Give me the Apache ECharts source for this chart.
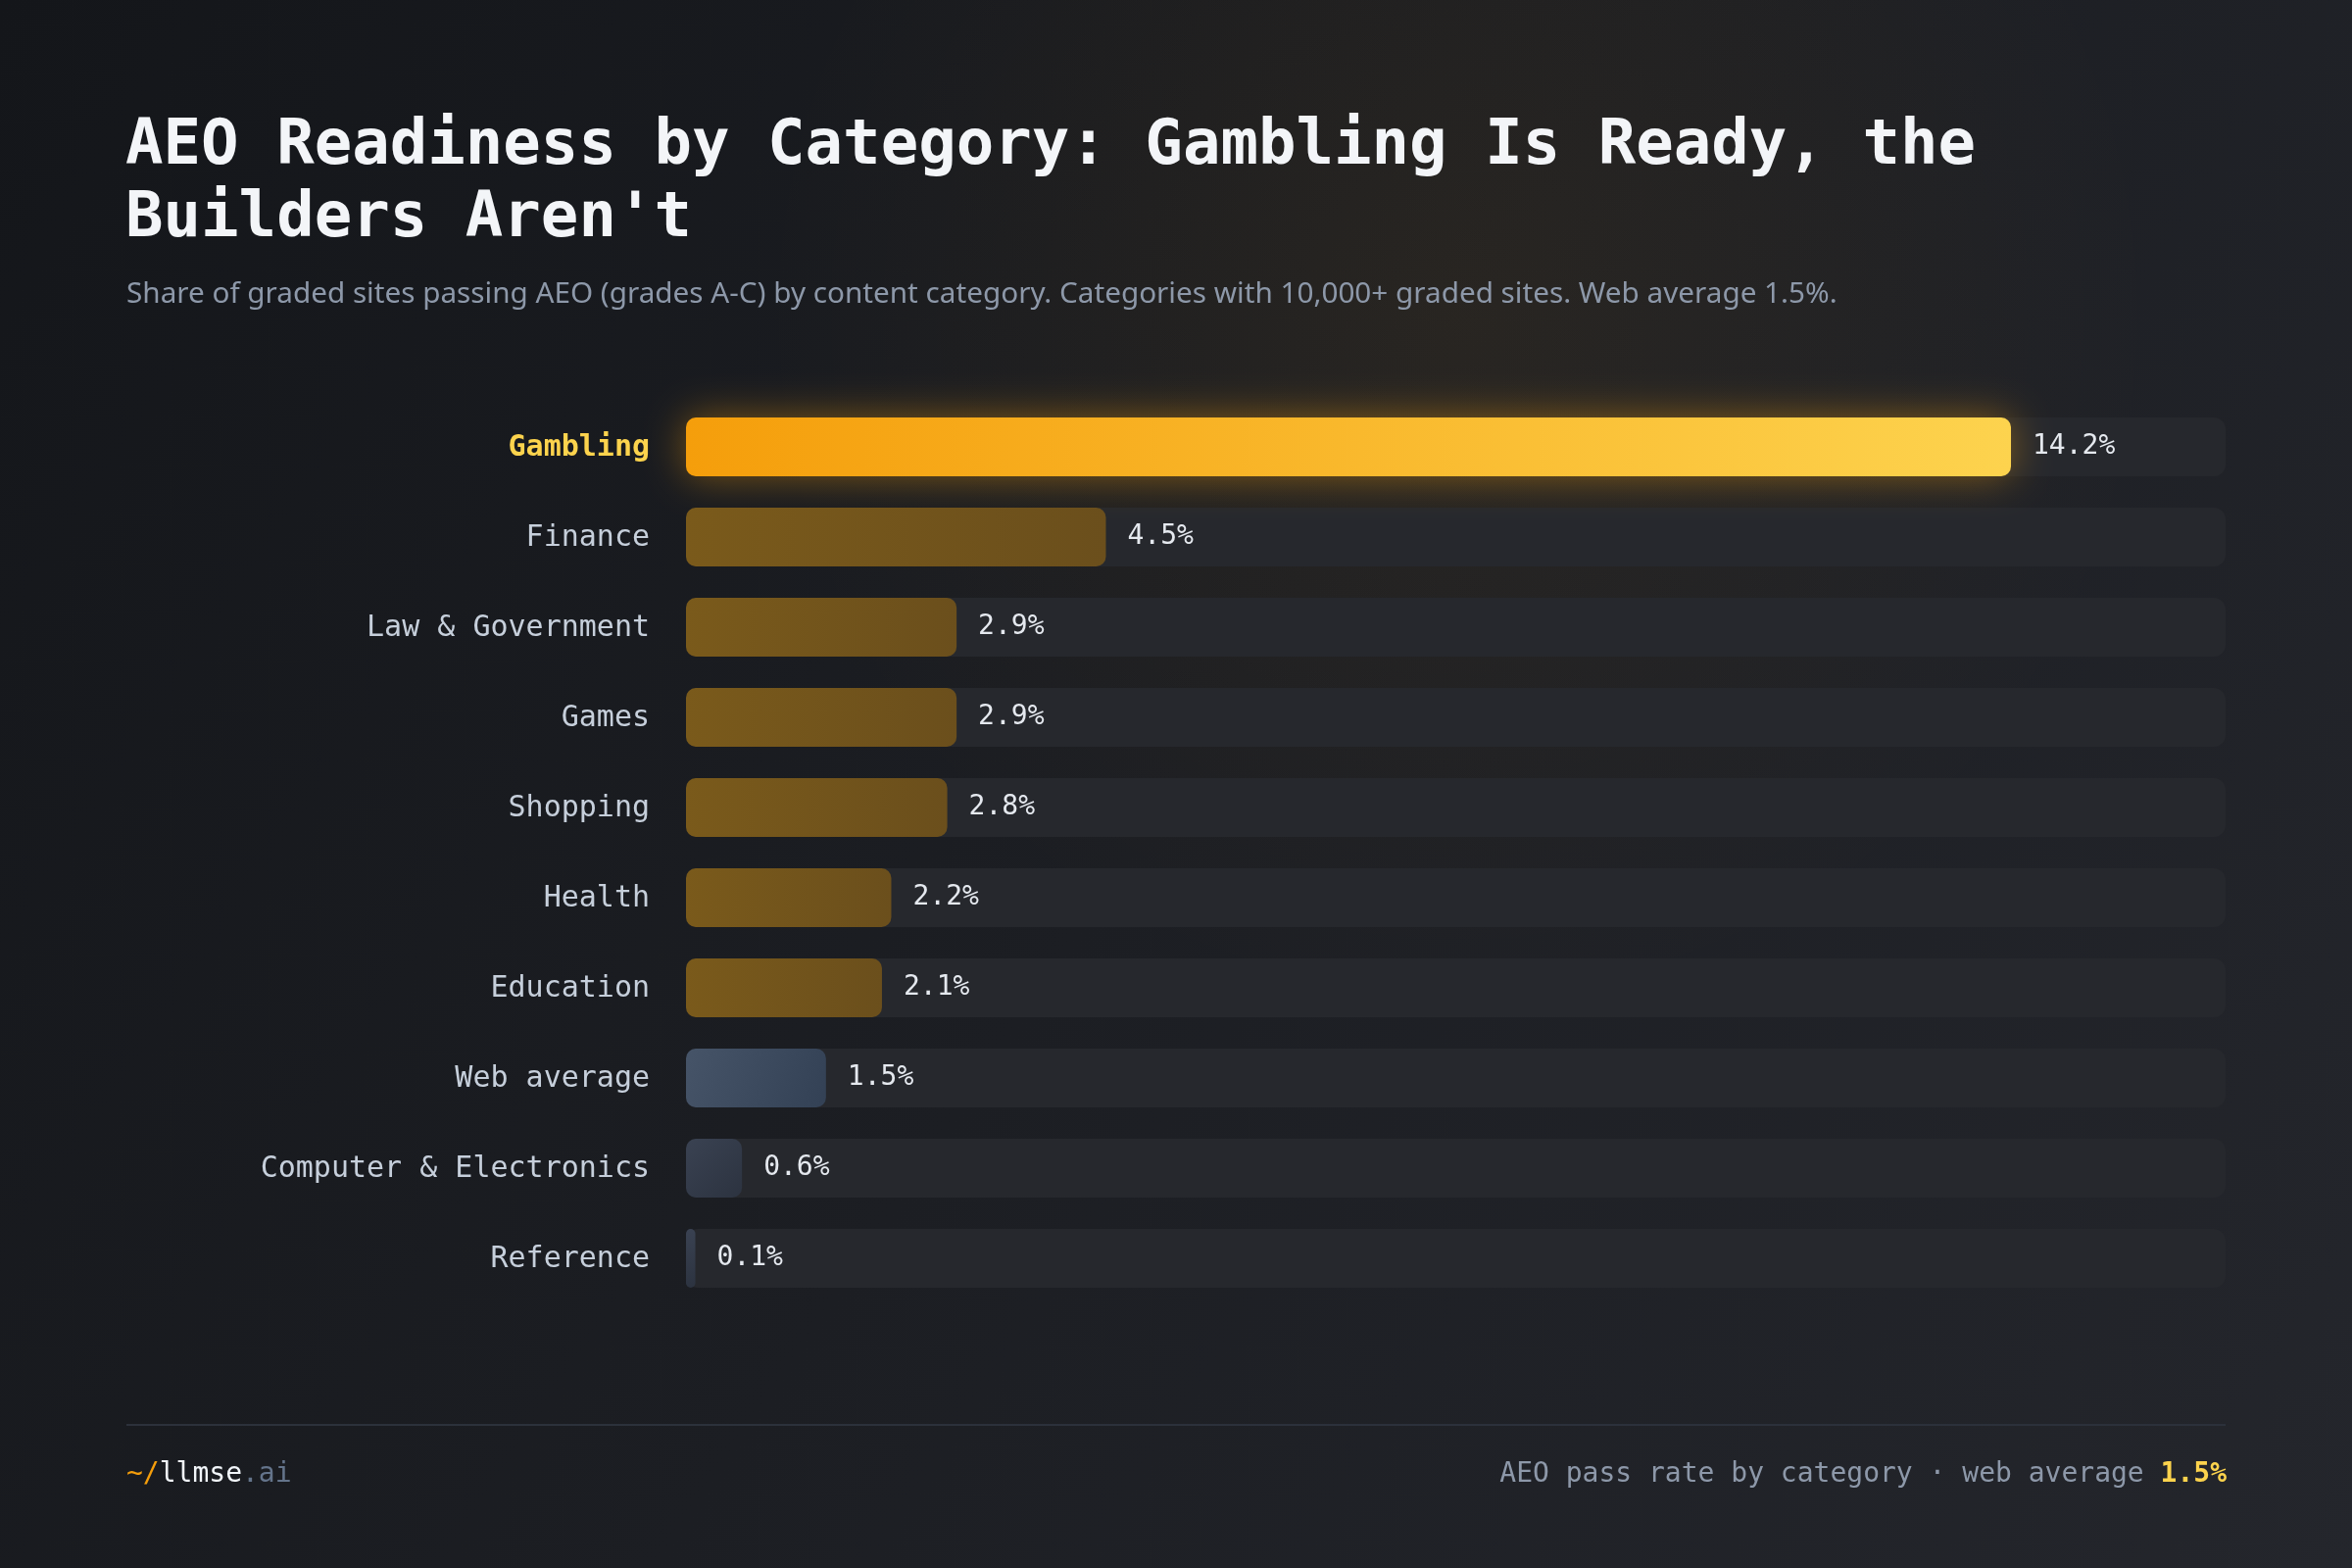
<!DOCTYPE html>
<html>
<head>
<meta charset="utf-8">
<script src="https://cdn.jsdelivr.net/npm/echarts@6/dist/echarts.min.js"></script>
<style>
  html, body { margin: 0; padding: 0; background: #181a1f; }
  #chart { width: 2400px; height: 1600px; }
</style>
</head>
<body>
<div id="chart"></div>
<script>
var categorias = ["Gambling", "Finance", "Law & Government", "Games", "Shopping",
  "Health", "Education", "Web average", "Computer & Electronics", "Reference"];
var valores = [14.2, 4.5, 2.9, 2.9, 2.8, 2.2, 2.1, 1.5, 0.6, 0.1];
var maxEscala = 16.5;

var mono = "'DejaVu Sans Mono', 'Liberation Mono', monospace";
var sans = "'Noto Sans', 'Open Sans', sans-serif";

function estiloBarra(cat) {
  if (cat === "Gambling") {
    return {
      color: new echarts.graphic.LinearGradient(0, 0, 1, 0, [
        { offset: 0, color: "#f59e0b" },
        { offset: 1, color: "#fdd34e" }
      ]),
      borderRadius: 10,
      shadowBlur: 40,
      shadowColor: "rgba(245, 158, 11, 0.45)"
    };
  }
  if (cat === "Web average") {
    return {
      color: new echarts.graphic.LinearGradient(0, 0, 1, 1, [
        { offset: 0, color: "#465468" },
        { offset: 1, color: "#334155" }
      ]),
      borderRadius: 10
    };
  }
  if (cat === "Computer & Electronics" || cat === "Reference") {
    return {
      color: new echarts.graphic.LinearGradient(0, 0, 1, 1, [
        { offset: 0, color: "#3a4252" },
        { offset: 1, color: "#2c3340" }
      ]),
      borderRadius: 10
    };
  }
  return {
    color: new echarts.graphic.LinearGradient(0, 0, 1, 0, [
      { offset: 0, color: "#7a5a1b" },
      { offset: 1, color: "#6b4f1c" }
    ]),
    borderRadius: 10
  };
}

var datosSerie = valores.map(function (v, i) {
  return { value: v, itemStyle: estiloBarra(categorias[i]) };
});

var chart = echarts.init(document.getElementById("chart"));
var option = {
  backgroundColor: new echarts.graphic.LinearGradient(0, 0, 1, 1, [
    { offset: 0, color: "#14161a" },
    { offset: 1, color: "#24262c" }
  ]),
  graphic: [
    {
      type: "rect",
      silent: true,
      z: -1,
      shape: { x: 0, y: 0, width: 2400, height: 1600 },
      style: {
        fill: new echarts.graphic.RadialGradient(0.62, 0.2, 0.45, [
          { offset: 0, color: "rgba(245, 158, 11, 0.06)" },
          { offset: 1, color: "rgba(245, 158, 11, 0)" }
        ])
      }
    },
    {
      type: "line",
      silent: true,
      shape: { x1: 129, y1: 1454, x2: 2271, y2: 1454 },
      style: { stroke: "#2c313b", lineWidth: 2 }
    }
  ],
  title: [
    {
      text: "AEO Readiness by Category: Gambling Is Ready, the\nBuilders Aren't",
      left: 123,
      top: 108,
      textStyle: {
        fontFamily: mono,
        fontSize: 64,
        fontWeight: "bold",
        color: "#f3f5f8",
        lineHeight: 74
      }
    },
    {
      text: "Share of graded sites passing AEO (grades A-C) by content category. Categories with 10,000+ graded sites. Web average 1.5%.",
      left: 124,
      top: 281,
      textStyle: {
        fontFamily: sans,
        fontSize: 29.7,
        fontWeight: "normal",
        color: "#8d98a9"
      }
    },
    {
      text: "{a|~/}{b|llmse}{c|.ai}",
      left: 124,
      top: 1486,
      textStyle: {
        fontWeight: "normal",
        rich: {
          a: { fontFamily: mono, fontSize: 28, fontWeight: "normal", color: "#f59e0b" },
          b: { fontFamily: mono, fontSize: 28, fontWeight: "normal", color: "#f1f5f9" },
          c: { fontFamily: mono, fontSize: 28, fontWeight: "normal", color: "#64748b" }
        }
      }
    },
    {
      text: "{a|AEO pass rate by category · web average }{b|1.5%}",
      right: 123,
      top: 1486,
      textStyle: {
        fontWeight: "normal",
        rich: {
          a: { fontFamily: mono, fontSize: 28, fontWeight: "normal", color: "#8d98a9" },
          b: { fontFamily: mono, fontSize: 28, color: "#fcd34d", fontWeight: "bold" }
        }
      }
    }
  ],
  grid: { left: 700, right: 129, top: 410, bottom: 270 },
  xAxis: {
    type: "value",
    min: 0,
    max: maxEscala,
    show: false
  },
  yAxis: {
    type: "category",
    data: categorias,
    inverse: true,
    axisLine: { show: false },
    axisTick: { show: false },
    axisLabel: {
      margin: 37,
      fontFamily: mono,
      fontSize: 30,
      color: "#c6cfdb",
      padding: [3, 0, 0, 0],
      formatter: function (val) {
        if (val === "Gambling") return "{hl|" + val + "}";
        return val;
      },
      rich: {
        hl: { fontFamily: mono, fontSize: 30, fontWeight: "bold", color: "#fcd34d" }
      }
    }
  },
  series: [
    {
      type: "bar",
      data: datosSerie,
      barWidth: 60,
      showBackground: true,
      backgroundStyle: { color: "#26282d", borderRadius: 12 },
      label: {
        show: true,
        position: "right",
        distance: 22,
        fontFamily: mono,
        fontSize: 28,
        color: "#e5e9ef",
        padding: [3, 0, 0, 0],
        formatter: function (p) {
          return p.value.toFixed(1) + "%";
        }
      },
      animation: false
    }
  ],
  animation: false
};
chart.setOption(option);
</script>
</body>
</html>
